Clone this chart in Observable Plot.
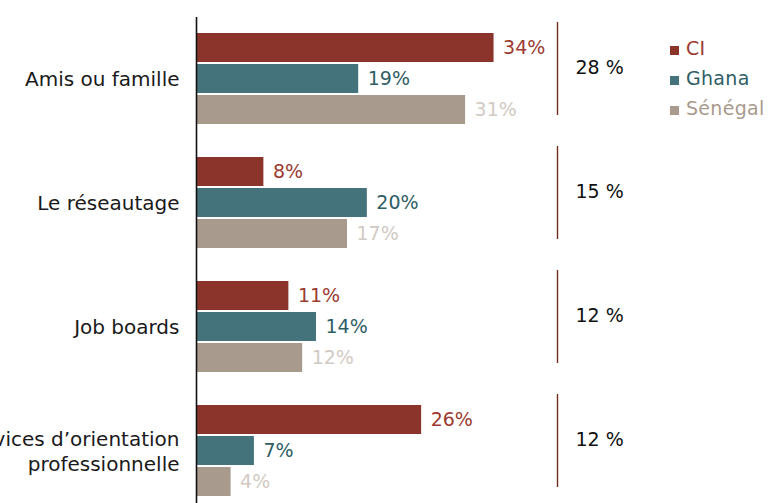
<!DOCTYPE html>
<html>
<head>
<meta charset="utf-8">
<script src="https://cdn.jsdelivr.net/npm/d3@7"></script>
<script src="https://cdn.jsdelivr.net/npm/@observablehq/plot@0.6"></script>
<style>
  html, body { margin: 0; padding: 0; background: #fff; }
  #wrap { position: relative; width: 770px; height: 503px; overflow: hidden; font-family: "DejaVu Sans", sans-serif; }
  #legend { position: absolute; left: 670px; top: 33px; font-size: 19px; line-height: 30px; letter-spacing: 0.3px; }
  #legend .item { display: flex; align-items: center; white-space: nowrap; }
  #legend .sw { width: 9px; height: 9px; margin-right: 7px; display: inline-block; position: relative; top: 2px; }
</style>
</head>
<body>
<div id="wrap"><div id="legend"></div></div>
<script>
// ---- data ----
const categories = ["Amis ou famille", "Le réseautage", "Job boards", "Services d’orientation\nprofessionnelle"];
const countries = ["CI", "Ghana", "Sénégal"];
const valuesCI = [34.4, 7.7, 10.6, 26.0];
const valuesGhana = [18.7, 19.7, 13.8, 6.6];
const valuesSenegal = [31.1, 17.4, 12.2, 3.9];
const totals = [28, 15, 12, 12];

// ---- styles ----
const barColors = {"CI": "#8B342C", "Ghana": "#44737C", "Sénégal": "#A89A8D"};
const labelColors = {"CI": "#9C3B31", "Ghana": "#2F5E65", "Sénégal": "#D2CAC3"};
const legendColors = {"CI": "#9C3B31", "Ghana": "#2F5E65", "Sénégal": "#A89A8D"};

const series = {"CI": valuesCI, "Ghana": valuesGhana, "Sénégal": valuesSenegal};
const rows = [];
categories.forEach((c, i) => countries.forEach(k => rows.push({category: c, country: k, value: series[k][i], key: i + "|" + k})));
const groups = categories.map((c, i) => ({category: c, total: totals[i], key: i + "|Ghana"}));

// band domain with spacer slots between groups
const yDomain = [];
categories.forEach((c, i) => {
  countries.forEach(k => yDomain.push(i + "|" + k));
  if (i < categories.length - 1) yDomain.push("gap" + i);
});

const xMax = 41.76;
const font = "DejaVu Sans, sans-serif";

const chart = Plot.plot({
  width: 770,
  height: 503,
  marginLeft: 197,
  marginRight: 213,
  marginTop: 33,
  marginBottom: 7,
  style: {fontFamily: font, fontSize: "19px", background: "transparent", overflow: "visible"},
  x: {domain: [0, xMax], axis: null},
  y: {domain: yDomain, axis: null, paddingInner: 0.065, paddingOuter: 0},
  marks: [
    Plot.barX(rows, {y: "key", x: "value", fill: d => barColors[d.country]}),
    Plot.ruleX([0], {stroke: "#111", strokeWidth: 1.6, dx: -1, insetTop: -16, insetBottom: -8}),
    Plot.text(rows, {y: "key", x: "value", text: d => Math.round(d.value) + "%", fill: d => labelColors[d.country],
      textAnchor: "start", dx: 9, fontSize: 19, letterSpacing: 0.6}),
    Plot.text(groups, {y: "key", x: 0, text: "category", textAnchor: "end", dx: -18, dy: -1, fill: "#1a1a1a",
      fontSize: 20, lineHeight: 1.25, letterSpacing: 0.8}),
    Plot.tickX(groups, {x: () => xMax, y: "key", stroke: "#6E2E1C", strokeWidth: 1.4, insetTop: -42, insetBottom: -22}),
    Plot.text(groups, {x: () => xMax, y: "key", text: d => d.total + " %", textAnchor: "start", dx: 18, dy: -11,
      fill: "#111", fontSize: 19, letterSpacing: 0.8})
  ]
});
document.getElementById("wrap").prepend(chart);

const legend = document.getElementById("legend");
countries.forEach(k => {
  const it = document.createElement("div");
  it.className = "item";
  it.style.color = legendColors[k];
  const sw = document.createElement("span");
  sw.className = "sw";
  sw.style.background = barColors[k];
  it.appendChild(sw);
  it.appendChild(document.createTextNode(k));
  legend.appendChild(it);
});
</script>
</body>
</html>
